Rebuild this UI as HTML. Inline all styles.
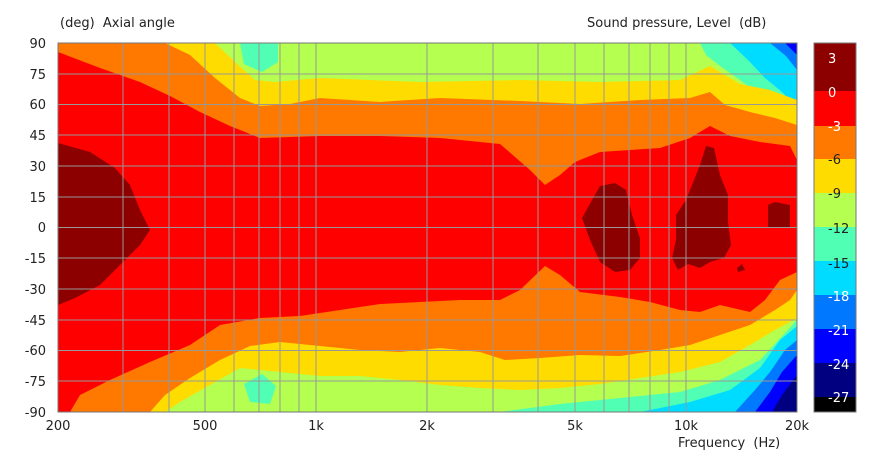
<!DOCTYPE html>
<html><head><meta charset="utf-8"><style>
body{margin:0;background:#fff;width:875px;height:458px;overflow:hidden}
svg text{font-family:"DejaVu Sans","Liberation Sans",sans-serif;font-size:13px;fill:#222;white-space:pre}
</style></head><body>
<svg width="875" height="458" viewBox="0 0 875 458">
<defs><clipPath id="c"><rect x="58" y="43" width="739" height="369"/></clipPath></defs>
<g clip-path="url(#c)">
<rect x="58" y="43" width="739" height="369" fill="#b4ff50"/>
<path d="M240 43 L278 43 L278 62 L262 72 L244 64 Z" fill="#50ffb4"/>
<path d="M244 384 L262 374 L276 386 L270 404 L250 402 Z" fill="#50ffb4"/>
<path d="M700 43 L797 43 L797 120 L780 108 L760 96 L740 80 L720 66 L706 55 Z" fill="#50ffb4"/>
<path d="M730 43 L797 43 L797 108 L782 92 L765 78 L748 60 Z" fill="#00dcff"/>
<path d="M770 43 L797 43 L797 70 L786 56 Z" fill="#0078ff"/>
<path d="M785 43 L797 43 L797 55 Z" fill="#0000ff"/>
<path d="M500 412 L560 404 L620 398 L680 392 L720 380 L760 360 L797 320 L797 412 Z" fill="#50ffb4"/>
<path d="M640 412 L690 402 L730 390 L760 368 L780 340 L797 326 L797 412 Z" fill="#00dcff"/>
<path d="M735 412 L755 390 L770 372 L785 350 L797 340 L797 412 Z" fill="#0078ff"/>
<path d="M755 412 L770 392 L782 372 L797 355 L797 412 Z" fill="#0000ff"/>
<path d="M772 412 L782 395 L797 375 L797 412 Z" fill="#000080"/>
<path d="M58 43 L215 43 L235 62 L255 80 L275 82 L320 78 L420 82 L520 80 L600 82 L680 80 L710 66 L740 84 L770 90 L797 100 L797 318 L775 330 L750 345 L720 362 L680 372 L640 378 L600 384 L560 388 L520 390 L480 388 L440 385 L400 380 L360 376 L320 376 L280 372 L240 368 L210 385 L180 402 L165 412 L58 412 Z" fill="#ffdc00"/>
<path d="M58 43 L165 43 L190 55 L215 78 L240 98 L260 106 L290 104 L320 98 L380 102 L440 98 L520 101 L580 104 L640 100 L690 98 L710 92 L725 105 L750 112 L775 118 L797 125 L797 290 L790 300 L775 310 L750 325 L720 335 L690 345 L660 350 L620 356 L580 355 L540 358 L505 360 L480 352 L440 348 L400 352 L360 350 L320 346 L280 342 L250 346 L220 360 L190 378 L165 395 L150 412 L58 412 Z" fill="#ff7800"/>
<path d="M58 52 L100 68 L140 82 L170 96 L200 112 L230 126 L260 138 L320 136 L380 136 L440 138 L500 144 L530 170 L545 185 L560 175 L575 162 L600 152 L630 150 L660 148 L690 138 L710 126 L730 136 L760 142 L790 146 L797 160 L797 272 L780 280 L765 300 L750 312 L720 305 L700 312 L680 310 L650 302 L620 297 L580 292 L560 275 L545 266 L520 290 L500 300 L460 300 L420 302 L380 304 L340 310 L300 316 L260 318 L220 325 L190 345 L150 362 L110 380 L80 395 L70 412 L58 412 Z" fill="#ff0000"/>
<path d="M58 143 L90 152 L115 168 L130 185 L140 210 L150 230 L140 245 L120 265 L100 285 L75 298 L58 305 Z" fill="#8c0000"/>
<path d="M592 200 L600 186 L615 183 L626 190 L632 215 L640 238 L640 258 L630 270 L615 272 L600 262 L590 240 L582 218 Z" fill="#8c0000"/>
<path d="M686 200 L700 165 L706 146 L714 148 L720 175 L728 195 L728 222 L731 245 L724 258 L710 262 L700 268 L688 264 L678 270 L672 258 L676 240 L676 215 Z" fill="#8c0000"/>
<path d="M768 205 L775 202 L790 205 L790 228 L768 228 Z" fill="#8c0000"/>
<path d="M737 268 L742 264 L745 270 L738 272 Z" fill="#8c0000"/>
</g>
<g stroke="#999" stroke-width="1">
<line x1="58" x2="797" y1="74" y2="74"/><line x1="58" x2="797" y1="104.5" y2="104.5"/><line x1="58" x2="797" y1="135" y2="135"/><line x1="58" x2="797" y1="166" y2="166"/><line x1="58" x2="797" y1="197" y2="197"/><line x1="58" x2="797" y1="227.5" y2="227.5"/><line x1="58" x2="797" y1="258" y2="258"/><line x1="58" x2="797" y1="289" y2="289"/><line x1="58" x2="797" y1="320" y2="320"/><line x1="58" x2="797" y1="350.5" y2="350.5"/><line x1="58" x2="797" y1="381" y2="381"/>
<line x1="123" x2="123" y1="43" y2="412"/><line x1="169" x2="169" y1="43" y2="412"/><line x1="205" x2="205" y1="43" y2="412"/><line x1="234" x2="234" y1="43" y2="412"/><line x1="259" x2="259" y1="43" y2="412"/><line x1="280" x2="280" y1="43" y2="412"/><line x1="299" x2="299" y1="43" y2="412"/><line x1="316" x2="316" y1="43" y2="412"/><line x1="427" x2="427" y1="43" y2="412"/><line x1="493" x2="493" y1="43" y2="412"/><line x1="538" x2="538" y1="43" y2="412"/><line x1="575" x2="575" y1="43" y2="412"/><line x1="604" x2="604" y1="43" y2="412"/><line x1="629" x2="629" y1="43" y2="412"/><line x1="650" x2="650" y1="43" y2="412"/><line x1="669" x2="669" y1="43" y2="412"/><line x1="686" x2="686" y1="43" y2="412"/>
</g>
<rect x="58" y="43" width="739" height="369" fill="none" stroke="#777"/>
<rect x="814" y="43" width="42" height="48" fill="#8c0000"/>
<rect x="814" y="91" width="42" height="35" fill="#ff0000"/>
<rect x="814" y="126" width="42" height="33" fill="#ff7800"/>
<rect x="814" y="159" width="42" height="34" fill="#ffdc00"/>
<rect x="814" y="193" width="42" height="34" fill="#b4ff50"/>
<rect x="814" y="227" width="42" height="34" fill="#50ffb4"/>
<rect x="814" y="261" width="42" height="34" fill="#00dcff"/>
<rect x="814" y="295" width="42" height="34" fill="#0078ff"/>
<rect x="814" y="329" width="42" height="34" fill="#0000ff"/>
<rect x="814" y="363" width="42" height="34" fill="#000080"/>
<rect x="814" y="397" width="42" height="15" fill="#000000"/>
<rect x="814" y="43" width="42" height="369" fill="none" stroke="#777"/>
<g>
<text x="828" y="63" style="fill:#fff">3</text>
<text x="828" y="97" style="fill:#fff">0</text>
<text x="828" y="131" style="fill:#fff">-3</text>
<text x="828" y="164" style="fill:#222">-6</text>
<text x="828" y="198" style="fill:#222">-9</text>
<text x="828" y="233" style="fill:#222">-12</text>
<text x="828" y="268" style="fill:#222">-15</text>
<text x="828" y="301" style="fill:#fff">-18</text>
<text x="828" y="335" style="fill:#fff">-21</text>
<text x="828" y="369" style="fill:#fff">-24</text>
<text x="828" y="402" style="fill:#fff">-27</text>
</g>
<text x="60" y="27">(deg)  Axial angle</text>
<text x="587" y="27">Sound pressure, Level  (dB)</text>
<g text-anchor="end">
<text x="46" y="48">90</text><text x="46" y="79">75</text><text x="46" y="109">60</text><text x="46" y="140">45</text><text x="46" y="171">30</text><text x="46" y="202">15</text><text x="46" y="232">0</text><text x="46" y="263">-15</text><text x="46" y="294">-30</text><text x="46" y="325">-45</text><text x="46" y="355">-60</text><text x="46" y="386">-75</text><text x="46" y="417">-90</text>
</g>
<g text-anchor="middle">
<text x="58" y="430">200</text><text x="205" y="430">500</text><text x="316" y="430">1k</text><text x="427" y="430">2k</text><text x="575" y="430">5k</text><text x="686" y="430">10k</text><text x="797" y="430">20k</text>
</g>
<text x="678" y="447">Frequency  (Hz)</text>
</svg>
</body></html>
